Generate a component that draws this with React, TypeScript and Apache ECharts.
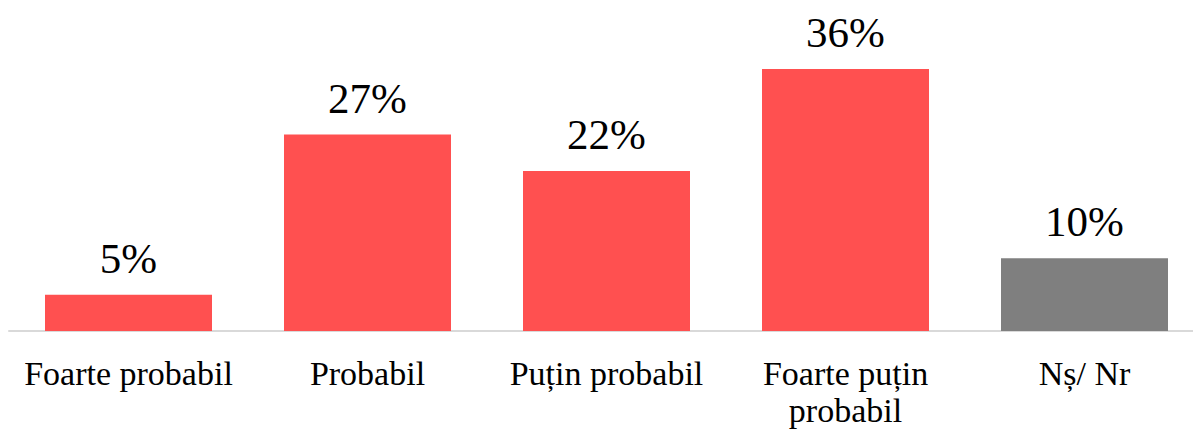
import React, { useEffect, useRef } from "react";
import * as echarts from "echarts";

const categories = ["Foarte probabil", "Probabil", "Puțin probabil", "Foarte puțin\nprobabil", "Nș/ Nr"];
const values = [5, 27, 22, 36, 10];
const colors = ["#FF5050", "#FF5050", "#FF5050", "#FF5050", "#7F7F7F"];

export default function App() {
  const ref = useRef<HTMLDivElement>(null);
  useEffect(() => {
    const chart = echarts.init(ref.current!, null, { renderer: "svg" });
    chart.setOption({
      animation: false,
      grid: { left: 9, right: 0, top: 0, height: 331, outerBoundsMode: "none", containLabel: false },
      xAxis: {
        type: "category",
        data: categories,
        axisLine: { lineStyle: { color: "#D9D9D9", width: 2 } },
        axisTick: { show: false },
        axisLabel: {
          interval: 0,
          margin: 24,
          fontFamily: "Liberation Serif",
          fontSize: 34,
          lineHeight: 37,
          color: "#000",
        },
      },
      yAxis: { type: "value", min: 0, max: 45.5, show: false, splitLine: { show: false } },
      series: [
        {
          type: "bar",
          barWidth: 167,
          data: values.map((v, i) => ({ value: v, itemStyle: { color: colors[i] } })),
          label: {
            show: true,
            position: "top",
            distance: 15,
            formatter: "{c}%",
            fontFamily: "Liberation Serif",
            fontSize: 43,
            color: "#000",
          },
        },
      ],
    });
    return () => chart.dispose();
  }, []);
  return (
    <div style={{ position: "absolute", left: 0, top: 0, width: 1193, height: 431, overflow: "hidden" }}>
      <div ref={ref} style={{ position: "absolute", left: 0, top: 0, width: 1204, height: 431 }} />
    </div>
  );
}
